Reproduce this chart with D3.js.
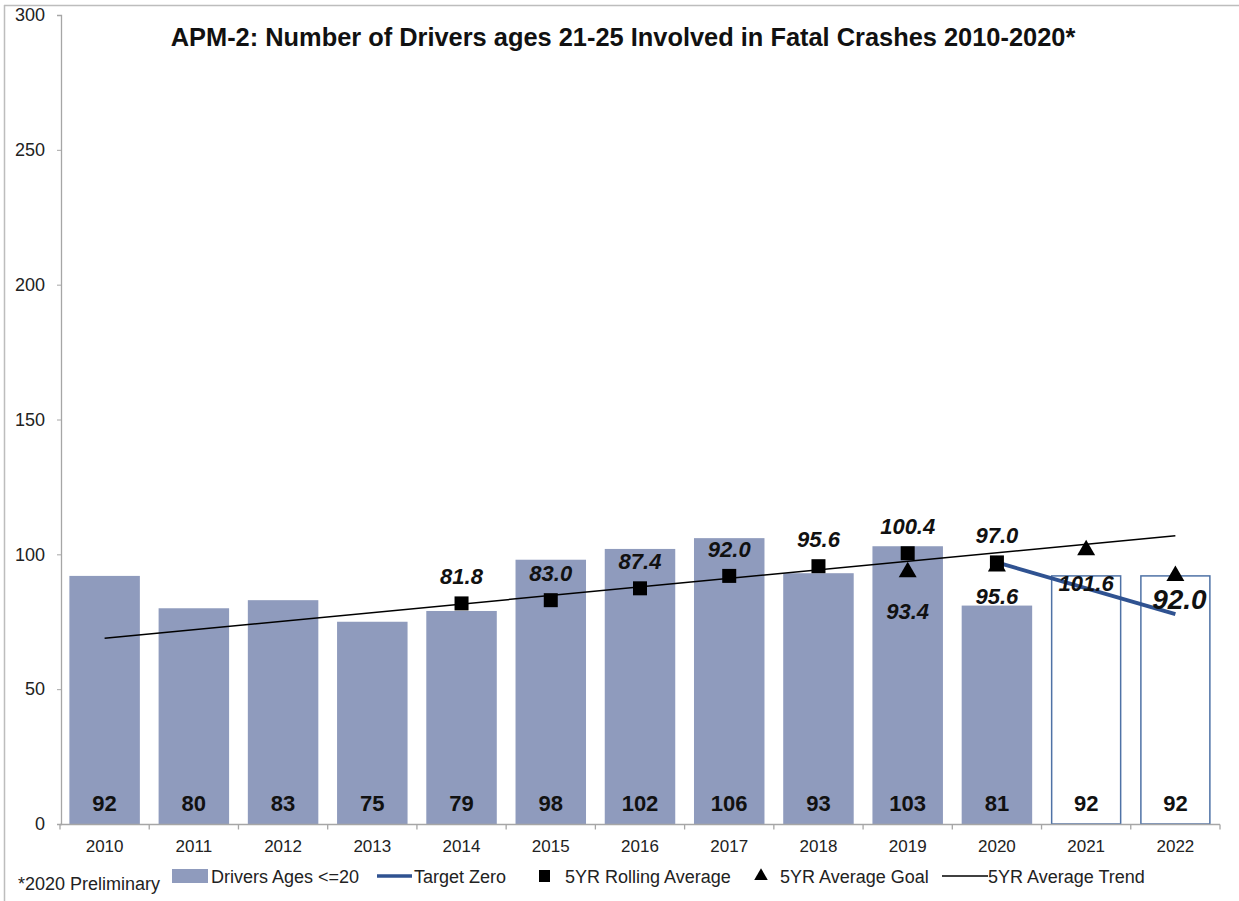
<!DOCTYPE html>
<html><head><meta charset="utf-8">
<script src="https://cdn.jsdelivr.net/npm/d3@7"></script>
<style>
body{margin:0;background:#fff;}
svg{display:block;font-family:"Liberation Sans",Arial,sans-serif;}
</style></head>
<body><svg id="c" width="1239" height="901"></svg>
<script>
const years = ["2010","2011","2012","2013","2014","2015","2016","2017","2018","2019","2020","2021","2022"];
const drivers = [92,80,83,75,79,98,102,106,93,103,81,92,92];
const projected = [false,false,false,false,false,false,false,false,false,false,false,true,true];
const rollingYears = ["2014","2015","2016","2017","2018","2019","2020"];
const rollingAvg = [81.8,83.0,87.4,92.0,95.6,100.4,97.0];
const goalYears = ["2019","2020","2021","2022"];
const goalVals = [93.4,95.6,101.6,92.0];
const targetYears = ["2020","2022"];
const targetVals = [97.0,77.8];
const trendYears = ["2010","2022"];
const trendVals = [68.9,106.9];
const yTicks = [0,50,100,150,200,250,300];

const svg = d3.select("#c");
const W=1239,H=901;
svg.append("line").attr("x1",4).attr("x2",W).attr("y1",5.5).attr("y2",5.5).attr("stroke","#bdbdbd").attr("stroke-width",1.5);
svg.append("line").attr("x1",4.5).attr("x2",4.5).attr("y1",5).attr("y2",H).attr("stroke","#bdbdbd").attr("stroke-width",1.5);

const x = d3.scaleBand().domain(years).range([60,1220]).paddingInner(0.21).paddingOuter(0.105);
const y = d3.scaleLinear().domain([0,300]).range([824,15]);
const cx = d => x(d)+x.bandwidth()/2;

const gy = svg.append("g").attr("transform","translate(61,0)")
  .call(d3.axisLeft(y).tickValues(yTicks).tickSize(4).tickPadding(12));
gy.select(".domain").attr("stroke","#a6a6a6").attr("stroke-width",1.3);
gy.selectAll(".tick line").attr("stroke","#a6a6a6");
gy.selectAll(".tick text").attr("font-size",18).attr("fill","#222").attr("font-family","Liberation Sans, Arial");

svg.append("g").selectAll("rect").data(years).join("rect")
  .attr("x",(d)=>x(d)+(projected[years.indexOf(d)]?0.75:0))
  .attr("width",(d)=>x.bandwidth()-(projected[years.indexOf(d)]?1.5:0))
  .attr("y",(d,i)=>y(drivers[i]))
  .attr("height",(d,i)=>y(0)-y(drivers[i]))
  .attr("fill",(d,i)=>projected[i]?"#fff":"#8f9bbd")
  .attr("stroke",(d,i)=>projected[i]?"#4f72a6":"none")
  .attr("stroke-width",1.5);

const gx = svg.append("g").attr("transform","translate(0,824.5)");
gx.append("line").attr("x1",60).attr("x2",1220).attr("stroke","#a6a6a6").attr("stroke-width",1.3);
const bounds = d3.range(years.length+1).map(i=>60+i*x.step());
gx.selectAll(".tk").data(bounds).join("line").attr("class","tk")
  .attr("x1",d=>d).attr("x2",d=>d).attr("y1",0).attr("y2",5).attr("stroke","#a6a6a6").attr("stroke-width",1.3);
gx.selectAll("text").data(years).join("text")
  .attr("x",d=>cx(d)).attr("y",27).attr("text-anchor","middle").attr("font-size",17).attr("fill","#222").text(d=>d);

svg.append("g").selectAll("text").data(years).join("text")
  .attr("x",d=>cx(d)).attr("y",811).attr("text-anchor","middle")
  .attr("font-size",22).attr("font-weight","bold").attr("fill","#111")
  .text((d,i)=>drivers[i]);

svg.append("line")
  .attr("x1",cx(trendYears[0])).attr("y1",y(trendVals[0]))
  .attr("x2",cx(trendYears[1])).attr("y2",y(trendVals[1]))
  .attr("stroke","#000").attr("stroke-width",1.5);

svg.append("path")
  .attr("d",d3.line().x((d,i)=>cx(targetYears[i])).y((d,i)=>y(d))(targetVals))
  .attr("stroke","#2f5291").attr("stroke-width",4).attr("fill","none");

const tri = d3.symbol().type(d3.symbolTriangle).size(140);
svg.append("g").selectAll("path").data(goalVals).join("path")
  .attr("d",tri).attr("transform",(d,i)=>`translate(${cx(goalYears[i])},${y(d)})`).attr("fill","#000");

svg.append("g").selectAll("rect").data(rollingAvg).join("rect")
  .attr("x",(d,i)=>cx(rollingYears[i])-7).attr("y",d=>y(d)-7)
  .attr("width",14).attr("height",14).attr("fill","#000");

svg.append("g").selectAll("text").data(rollingAvg).join("text")
  .attr("x",(d,i)=>cx(rollingYears[i])).attr("y",d=>y(d)-19)
  .attr("text-anchor","middle").attr("font-size",22).attr("font-weight","bold").attr("font-style","italic")
  .attr("fill","#111").text(d=>d.toFixed(1));

const goalOff = [47,38,41,33];
svg.append("g").selectAll("text").data(goalVals).join("text")
  .attr("x",(d,i)=>cx(goalYears[i])+(i===3?4:0))
  .attr("y",(d,i)=>y(d)+goalOff[i])
  .attr("text-anchor","middle").attr("font-size",(d,i)=>i===3?28:22).attr("font-weight","bold").attr("font-style","italic")
  .attr("fill","#111").text(d=>d.toFixed(1));

svg.append("text").attr("x",623).attr("y",46).attr("text-anchor","middle")
  .attr("font-size",25.4).attr("font-weight","bold").attr("fill","#111")
  .text("APM-2: Number of Drivers ages 21-25 Involved in Fatal Crashes 2010-2020*");

const lg = svg.append("g").attr("font-size",18).attr("fill","#222");
lg.append("text").attr("x",18).attr("y",890).attr("fill","#222").text("*2020 Preliminary");
lg.append("rect").attr("x",172).attr("y",869).attr("width",36).attr("height",14).attr("fill","#8f9bbd");
lg.append("text").attr("x",211).attr("y",883).attr("fill","#222").text("Drivers Ages <=20");
lg.append("line").attr("x1",377).attr("x2",412).attr("y1",876).attr("y2",876).attr("stroke","#2f5291").attr("stroke-width",3.5);
lg.append("text").attr("x",414).attr("y",883).attr("fill","#222").text("Target Zero");
lg.append("rect").attr("x",539).attr("y",870).attr("width",11).attr("height",12).attr("fill","#000");
lg.append("text").attr("x",565).attr("y",883).attr("fill","#222").text("5YR Rolling Average");
lg.append("path").attr("d",d3.symbol().type(d3.symbolTriangle).size(80)).attr("transform","translate(761,876)").attr("fill","#000");
lg.append("text").attr("x",780).attr("y",883).attr("fill","#222").text("5YR Average Goal");
lg.append("line").attr("x1",942).attr("x2",988).attr("y1",876).attr("y2",876).attr("stroke","#000").attr("stroke-width",1.3);
lg.append("text").attr("x",988).attr("y",883).attr("fill","#222").text("5YR Average Trend");
</script></body></html>
